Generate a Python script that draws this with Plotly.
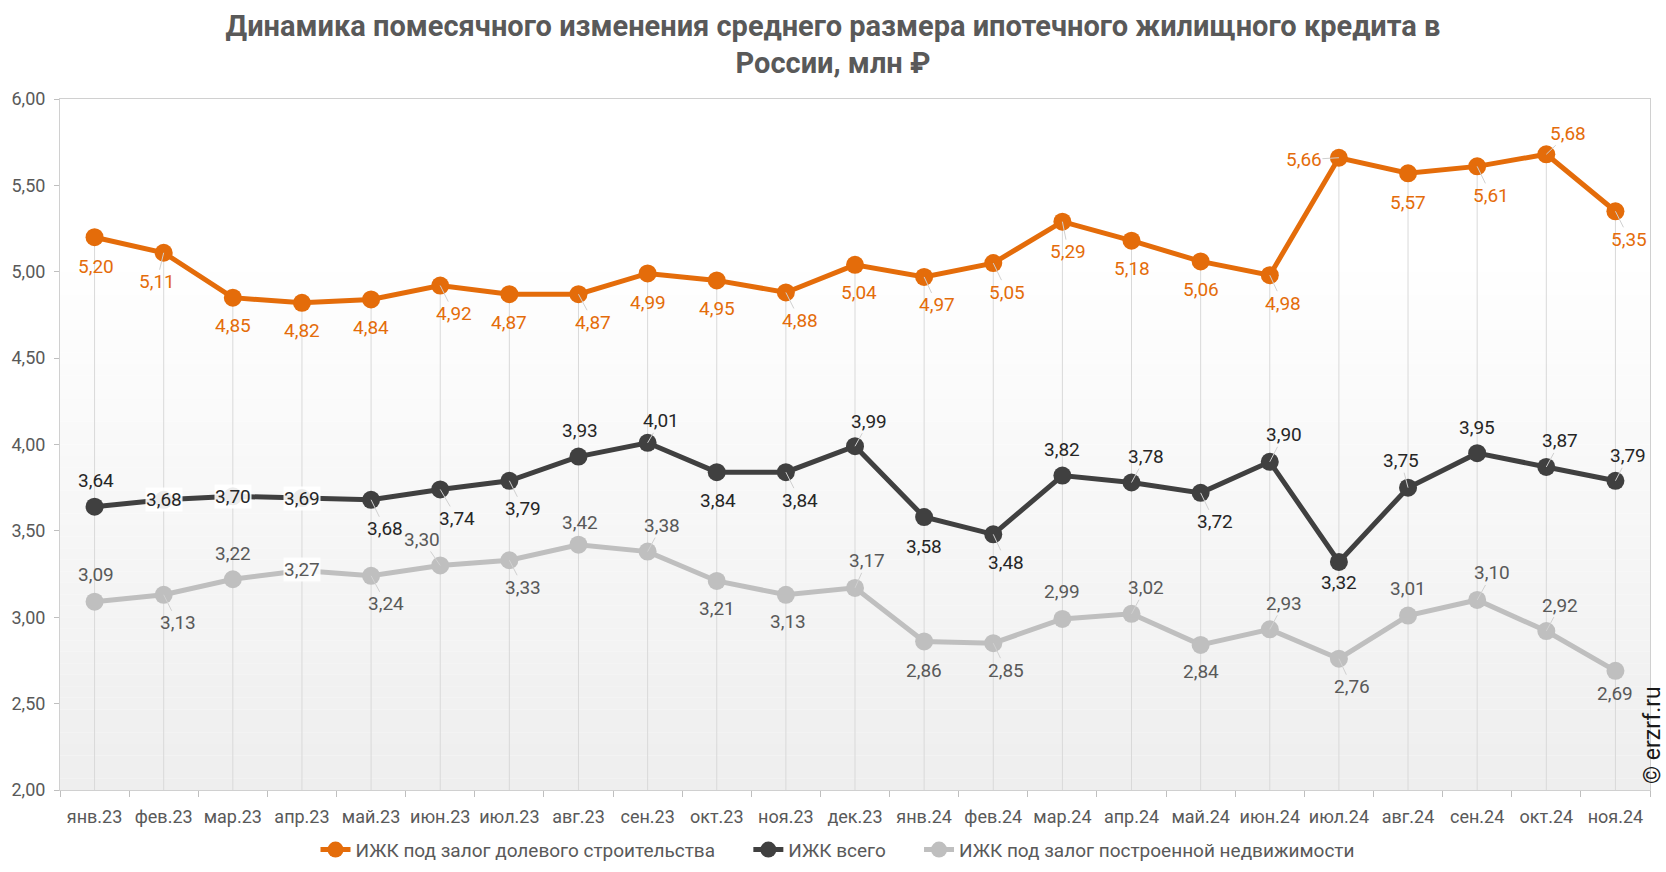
import plotly.graph_objects as go

months = ["янв.23", "фев.23", "мар.23", "апр.23", "май.23", "июн.23", "июл.23", "авг.23",
          "сен.23", "окт.23", "ноя.23", "дек.23", "янв.24", "фев.24", "мар.24", "апр.24",
          "май.24", "июн.24", "июл.24", "авг.24", "сен.24", "окт.24", "ноя.24"]

shared = [5.20, 5.11, 4.85, 4.82, 4.84, 4.92, 4.87, 4.87, 4.99, 4.95, 4.88, 5.04,
          4.97, 5.05, 5.29, 5.18, 5.06, 4.98, 5.66, 5.57, 5.61, 5.68, 5.35]
total = [3.64, 3.68, 3.70, 3.69, 3.68, 3.74, 3.79, 3.93, 4.01, 3.84, 3.84, 3.99,
         3.58, 3.48, 3.82, 3.78, 3.72, 3.90, 3.32, 3.75, 3.95, 3.87, 3.79]
built = [3.09, 3.13, 3.22, 3.27, 3.24, 3.30, 3.33, 3.42, 3.38, 3.21, 3.13, 3.17,
         2.86, 2.85, 2.99, 3.02, 2.84, 2.93, 2.76, 3.01, 3.10, 2.92, 2.69]

names = ["ИЖК под залог долевого строительства", "ИЖК всего",
         "ИЖК под залог построенной недвижимости"]
title_text = ("Динамика помесячного изменения среднего размера ипотечного жилищного кредита в"
              "<br>России, млн ₽")

# label offsets (px) for data labels: (dx, dy)
off_shared = [(1, 29), (-7, 29), (0, 28), (0, 28), (0, 28), (14, 28), (0, 28), (15, 28),
              (0, 29), (0, 28), (14, 28), (4, 28), (13, 28), (14, 29), (6, 30), (0, 28),
              (0, 28), (13, 28), (-35, 2), (0, 29), (14, 29), (22, -21), (14, 28)]
off_total = [(1, -26), (0, 0), (0, 0), (0, 0), (14, 29), (17, 29), (14, 28), (2, -26),
             (13, -22), (1, 28), (14, 28), (14, -25), (0, 29), (13, 28), (0, -26), (14, -26),
             (14, 29), (14, -27), (0, 21), (-7, -27), (0, -26), (14, -26), (13, -25)]
off_built = [(1, -27), (14, 28), (0, -26), (0, -1), (15, 28), (-18, -26), (14, 27), (2, -22),
             (14, -26), (0, 28), (2, 27), (12, -27), (0, 29), (13, 27), (0, -27), (14, -26),
             (0, 27), (14, -26), (13, 28), (0, -27), (15, -27), (14, -26), (0, 23)]

colors = ["#E46C0A", "#404040", "#BFBFBF"]
label_colors = ["#E46C0A", "#262626", "#595959"]

fig = go.Figure()

# gradient background bands
nb = 60
for i in range(nb):
    t0 = i / nb
    t = (i + 0.5) / nb  # fraction from top
    if t < 0.22:
        c = 255
    else:
        c = int(round(255 - (255 - 238) * (t - 0.22) / 0.78))
    fig.add_shape(type="rect", xref="x domain", yref="y domain",
                  x0=0, x1=1, y0=1 - (i + 1) / nb, y1=1 - t0,
                  fillcolor=f"rgb({c},{c},{c})", line_width=0, layer="below")

# drop lines from top series
fig.add_trace(go.Scatter(
    x=months, y=shared, mode="markers",
    marker=dict(size=1, color="rgba(0,0,0,0)"),
    error_y=dict(type="data", symmetric=False, array=[0] * len(shared),
                 arrayminus=[v - 2 for v in shared], color="#d9d9d9",
                 thickness=1, width=0),
    showlegend=False, hoverinfo="skip"))

pads = ["\u00a0" * 6, "\u00a0" * 6, ""]
for vals, name, col, pad in zip([shared, total, built], names, colors, pads):
    fig.add_trace(go.Scatter(
        x=months, y=vals, name=name + pad, mode="lines+markers",
        line=dict(color=col, width=5),
        marker=dict(color=col, size=18)))

annotations = []
for vals, offs, lc in zip([shared, total, built], [off_shared, off_total, off_built], label_colors):
    for m, v, (dx, dy) in zip(months, vals, offs):
        leader = abs(dx) >= 5
        centered = dx == 0 and abs(dy) <= 2
        annotations.append(dict(
            x=m, y=v, xref="x", yref="y",
            text=f"{v:.2f}".replace(".", ","),
            showarrow=True, ax=dx, ay=dy, axref="pixel", ayref="pixel",
            arrowhead=0, arrowwidth=1, standoff=0,
            arrowcolor="#d0d0d0" if leader else "rgba(0,0,0,0)",
            bgcolor="rgba(255,255,255,0.9)" if centered else "rgba(0,0,0,0)",
            borderpad=0,
            font=dict(family="Roboto", size=19, color=lc)))

annotations.append(dict(
    x=1, y=0, xref="paper", yref="paper", xanchor="center", yanchor="bottom",
    xshift=2, yshift=4, text="© erzrf.ru", textangle=-90, showarrow=False,
    font=dict(family="Roboto", size=23, color="#1a1a1a")))

fig.update_layout(
    width=1666, height=872,
    margin=dict(l=60, r=16, t=99, b=82, autoexpand=False),
    paper_bgcolor="white", plot_bgcolor="white",
    separators=", ",
    font=dict(family="Roboto", size=18, color="#595959"),
    title=dict(text=title_text, x=0.5, xanchor="center",
               yref="container", y=1 - 35.5 / 872, yanchor="middle",
               font=dict(family="Roboto", size=29, color="#595959", weight="bold")),
    legend=dict(orientation="h", x=0.489, xanchor="center", y=-0.059, yanchor="top",
                font=dict(family="Roboto", size=19, color="#595959"),
                itemwidth=30, tracegroupgap=0),
    annotations=annotations,
    showlegend=True,
)

fig.update_xaxes(type="category", range=[-0.5, len(months) - 0.5],
                 showgrid=False, showline=True, mirror=True, linecolor="#d0d0d0",
                 ticks="outside", tickson="boundaries", ticklen=6, tickcolor="#bfbfbf",
                 ticklabelstandoff=10, tickangle=0, automargin=False,
                 tickfont=dict(family="Roboto", size=18, color="#595959"),
                 zeroline=False, fixedrange=True)
fig.update_yaxes(range=[2, 6], dtick=0.5, tickformat=".2f",
                 showgrid=False, showline=True, mirror=True, linecolor="#d0d0d0",
                 ticks="outside", ticklen=5, tickcolor="#bfbfbf",
                 ticklabelstandoff=5, automargin=False,
                 tickfont=dict(family="Roboto", size=18, color="#595959"),
                 zeroline=False, fixedrange=True)

fig.write_html("out.html")
